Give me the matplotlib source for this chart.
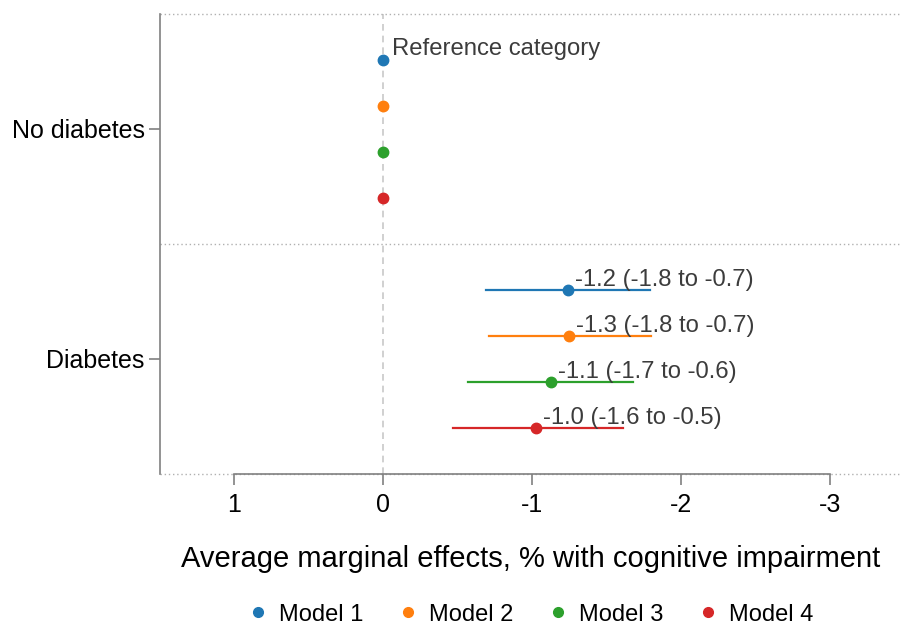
import matplotlib.pyplot as plt
from matplotlib.lines import Line2D

plt.rcParams['font.family'] = ['Liberation Sans', 'DejaVu Sans']

groups = ["No diabetes", "Diabetes"]
models = ["Model 1", "Model 2", "Model 3", "Model 4"]
colors = ["#1f77b4", "#ff7f0e", "#2ca02c", "#d62728"]

# diabetes estimates (no diabetes = reference, 0)
est = [-1.24, -1.25, -1.13, -1.03]
lo = [-0.69, -0.71, -0.57, -0.47]
hi = [-1.79, -1.80, -1.68, -1.61]
labels = ["-1.2 (-1.8 to -0.7)", "-1.3 (-1.8 to -0.7)",
          "-1.1 (-1.7 to -0.6)", "-1.0 (-1.6 to -0.5)"]
offsets = [-0.3, -0.1, 0.1, 0.3]

fig = plt.figure(figsize=(9.01, 6.25), dpi=100)
ax = fig.add_axes([0.1776, 0.2416, 1.0 - 0.1776, 0.736])

ax.axvline(0, color="#c8c8c8", lw=1.2, ls=(0, (4, 3)), zorder=1)
for yy in [-0.5, 0.5, 1.5]:
    ax.axhline(yy, color="#b0b0b0", lw=1.0, ls=(0, (1, 2)), zorder=1, clip_on=False)

for i, m in enumerate(models):
    # reference group
    y0 = 0 + offsets[i]
    ax.plot([0], [y0], "o", color=colors[i], ms=7.5, zorder=3)
    # diabetes group
    y1 = 1 + offsets[i]
    ax.plot([lo[i], hi[i]], [y1, y1], "-", color=colors[i], lw=1.6, zorder=2)
    ax.plot([est[i]], [y1], "o", color=colors[i], ms=7.5, zorder=3)
    ax.annotate(labels[i], (est[i], y1), xytext=(5, -1), textcoords="offset points",
                ha="left", va="bottom", fontsize=17.2, color="#3c3c3c")

ax.annotate("Reference category", (0, offsets[0]), xytext=(6, 0), textcoords="offset points",
            ha="left", va="bottom", fontsize=17.2, color="#3c3c3c")

ax.set_xlim(1.5, -3.48)
ax.set_ylim(1.5, -0.5)
ax.set_xticks([1, 0, -1, -2, -3])
ax.set_xticklabels(["1", "0", "-1", "-2", "-3"])
ax.set_yticks([0, 1])
ax.set_yticklabels(groups)
ax.tick_params(axis="both", labelsize=18, length=8, width=1.2, color="#808080")
ax.tick_params(axis="y", pad=3)
ax.tick_params(axis="x", pad=6)

for s in ["top", "right"]:
    ax.spines[s].set_visible(False)
for s in ["left", "bottom"]:
    ax.spines[s].set_color("#808080")
    ax.spines[s].set_linewidth(1.2)
ax.spines["bottom"].set_bounds(1, -3)

ax.set_xlabel("Average marginal effects, % with cognitive impairment", fontsize=21, labelpad=20)

handles = [Line2D([], [], marker="o", ls="none", color=c, ms=7) for c in colors]
fig.legend(handles, models, loc="lower center", bbox_to_anchor=(0.588, -0.035), ncol=4,
           frameon=False, fontsize=17, handlelength=1.0, handletextpad=0.4, columnspacing=1.37)

fig.savefig("out.png", dpi=100)
